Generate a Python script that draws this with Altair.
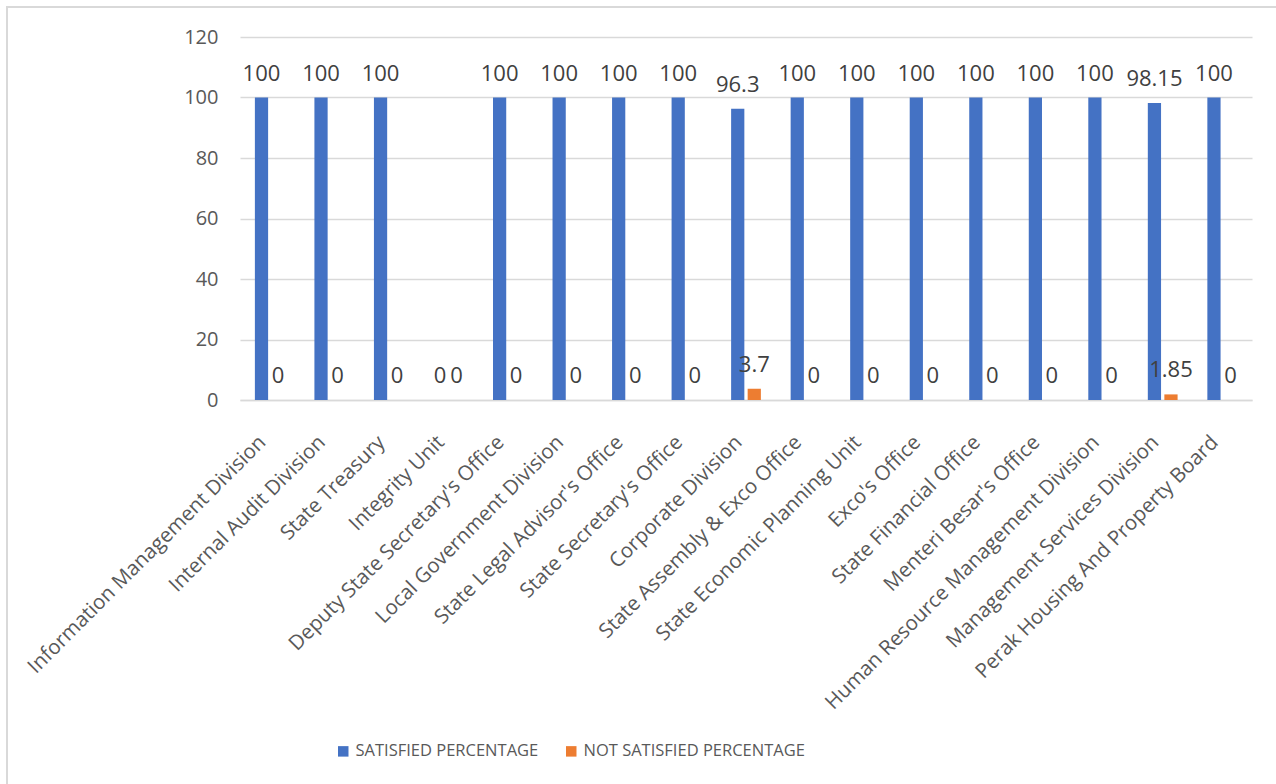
import altair as alt
import pandas as pd

categories = [
    "Information Management Division", "Internal Audit Division", "State Treasury",
    "Integrity Unit", "Deputy State Secretary's Office", "Local Government Division",
    "State Legal Advisor's Office", "State Secretary's Office", "Corporate Division",
    "State Assembly & Exco Office", "State Economic Planning Unit", "Exco's Office",
    "State Financial Office", "Menteri Besar's Office", "Human Resource Management Division",
    "Management Services Division", "Perak Housing And Property Board",
]
satisfied = [100, 100, 100, 0, 100, 100, 100, 100, 96.3, 100, 100, 100, 100, 100, 100, 98.15, 100]
not_satisfied = [0, 0, 0, 0, 0, 0, 0, 0, 3.7, 0, 0, 0, 0, 0, 0, 1.85, 0]
series = ["SATISFIED PERCENTAGE", "NOT SATISFIED PERCENTAGE"]
colors = ["#4472C4", "#ED7D31"]
y_ticks = [0, 20, 40, 60, 80, 100, 120]

rows = []
for c, s, n in zip(categories, satisfied, not_satisfied):
    rows.append({"cat": c, "series": series[0], "value": s, "label": f"{s:g}"})
    rows.append({"cat": c, "series": series[1], "value": n, "label": f"{n:g}"})
df = pd.DataFrame(rows)

FONT = "Open Sans"
GREY = "#595959"

x_enc = alt.X("cat:N", sort=categories, title=None,
              scale=alt.Scale(paddingInner=0.5, paddingOuter=0.25),
              axis=alt.Axis(labelAngle=-45, labelFontSize=20.5, labelFont=FONT,
                            labelColor=GREY, ticks=False, domain=True,
                            domainColor="#d9d9d9", domainWidth=1.5,
                            labelPadding=46, labelBaseline="bottom",
                            labelLimit=600, labelOverlap=False))
xoff = alt.XOffset("series:N", sort=series, scale=alt.Scale(paddingInner=0.2, paddingOuter=0))

base = alt.Chart(df)

bars = base.mark_bar().encode(
    x=x_enc,
    xOffset=xoff,
    y=alt.Y("value:Q", title=None,
            scale=alt.Scale(domain=[0, 120], nice=False),
            axis=alt.Axis(values=y_ticks, labelFontSize=20, labelFont=FONT,
                          labelColor=GREY, ticks=False, domain=False,
                          gridColor="#d9d9d9", gridWidth=1.5, labelPadding=22)),
    color=alt.Color("series:N", sort=series,
                    scale=alt.Scale(domain=series, range=colors),
                    legend=alt.Legend(title=None, orient="none", direction="horizontal",
                                      legendX=95, legendY=706, symbolType="square",
                                      symbolSize=110, symbolStrokeWidth=0,
                                      labelFontSize=16.5, labelFont=FONT,
                                      labelColor=GREY,
                                      labelLimit=1000, columnPadding=24,
                                      symbolOffset=0, labelOffset=4)),
)

labels = base.mark_text(fontSize=22, font=FONT, color="#404040",
                        baseline="alphabetic", dy=-17).encode(
    x=alt.X("cat:N", sort=categories),
    xOffset=xoff,
    y="value:Q",
    text="label:N",
)

border = alt.Chart(pd.DataFrame({"a": [0]})).mark_rect(
    fill=None, stroke="#d9d9d9", strokeWidth=2, clip=False
).encode(x=alt.value(-233), x2=alt.value(1100), y=alt.value(-30), y2=alt.value(800))

chart = alt.layer(bars, labels, border).properties(
    width=1012, height=363,
    autosize=alt.AutoSizeParams(type="none"),
    padding={"left": 240, "top": 37, "right": 24, "bottom": 384},
    background="white",
).configure_view(stroke=None)

chart.save("out.html", embed_options={"renderer": "svg", "actions": False})
